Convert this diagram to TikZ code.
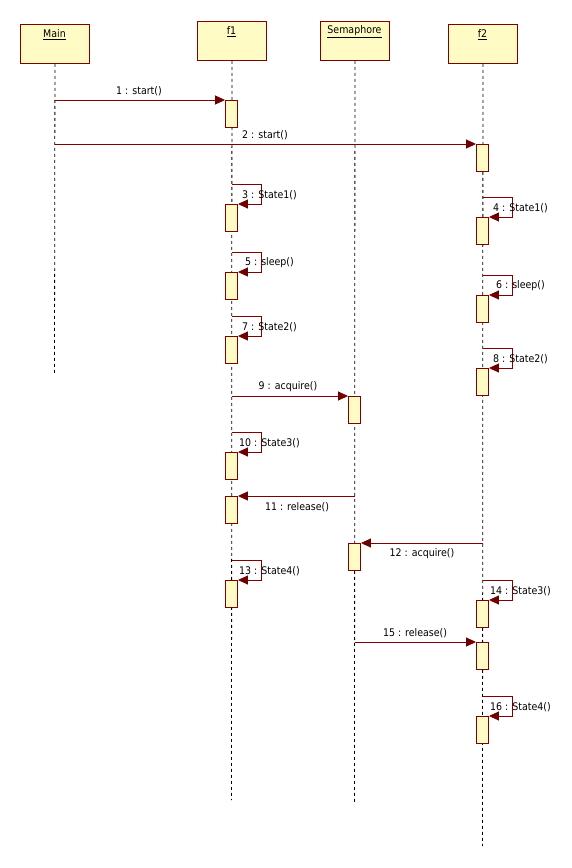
\documentclass[tikz,border=0pt]{standalone}
\usepackage{fontspec}
\setmainfont{DejaVu Sans Condensed}
\usetikzlibrary{arrows.meta}
\definecolor{umlfill}{RGB}{255,251,196}
\definecolor{umlline}{RGB}{128,0,0}
\definecolor{umlhead}{RGB}{112,0,0}
\begin{document}
\begin{tikzpicture}[x=1pt,y=-1pt,
  font=\fontsize{10.5}{13}\selectfont,
  objbox/.style={draw=umlline,fill=umlfill,line width=0.9pt,minimum width=69pt,
    minimum height=39pt,inner sep=0pt,anchor=north west},
  objtext/.style={inner sep=0pt,text=black},
  lifeline/.style={black,line width=0.8pt,dash pattern=on 3pt off 3pt},
  actbox/.style={draw=umlline,fill=umlfill,line width=0.9pt,minimum width=12pt,
    minimum height=27pt,inner sep=0pt,anchor=north},
  msg/.style={draw=umlline,line width=0.9pt,
    -{Triangle[length=10pt,width=9pt,fill=umlhead,color=umlhead]}},
  msgtext/.style={inner sep=0pt,text=black}]

\useasboundingbox (0,0) rectangle (572,868);

% objects
\node[objbox] (main) at (20,24) {};
\node[objbox] (f1) at (197,21) {};
\node[objbox] (sem) at (320,21) {};
\node[objbox] (f2) at (448,24) {};
\node[objtext] (mainlbl) at (54.5,35) {\underline{Main}};
\node[objtext] (f1lbl) at (231.5,32) {\underline{f1}};
\node[objtext] (semlbl) at (354.5,32) {\underline{Semaphore}};
\node[objtext] (f2lbl) at (482.5,35) {\underline{f2}};

% lifelines
\coordinate (mainend) at (54.5,373);
\coordinate (f1end) at (231.5,800);
\coordinate (semend) at (354.5,802);
\coordinate (f2end) at (482.5,846);
\draw[lifeline] (main.south) -- (mainend);
\draw[lifeline] (f1.south) -- (f1end);
\draw[lifeline] (sem.south) -- (semend);
\draw[lifeline] (f2.south) -- (f2end);

% activation bars
\node[actbox] (a1) at (231.5,100) {};
\node[actbox] (a2) at (482.5,144) {};
\node[actbox] (a3) at (231.5,204) {};
\node[actbox] (a4) at (482.5,217) {};
\node[actbox] (a5) at (231.5,272) {};
\node[actbox] (a6) at (482.5,295) {};
\node[actbox] (a7) at (231.5,336) {};
\node[actbox] (a8) at (482.5,368) {};
\node[actbox] (a9) at (354.5,396) {};
\node[actbox] (a10) at (231.5,452) {};
\node[actbox] (a11) at (231.5,496) {};
\node[actbox] (a12) at (354.5,543) {};
\node[actbox] (a13) at (231.5,580) {};
\node[actbox] (a14) at (482.5,600) {};
\node[actbox] (a15) at (482.5,642) {};
\node[actbox] (a16) at (482.5,716) {};

% messages between lifelines
\coordinate (m1) at (54.5,100);
\coordinate (m2) at (54.5,144);
\coordinate (m9) at (231.5,396);
\coordinate (m11) at (354.5,496);
\coordinate (m12) at (482.5,543);
\coordinate (m15) at (354.5,642);
\draw[msg] (m1) -- (a1.north west);
\draw[msg] (m2) -- (a2.north west);
\draw[msg] (m9) -- (a9.north west);
\draw[msg] (m11) -- (a11.north east);
\draw[msg] (m12) -- (a12.north east);
\draw[msg] (m15) -- (a15.north west);
\node[msgtext] (t1) at (139,91) {1 : start()};
\node[msgtext] (t2) at (265,135) {2 : start()};
\node[msgtext] (t9) at (288,387) {9 : acquire()};
\node[msgtext] (t11) at (297,507) {11 : release()};
\node[msgtext] (t12) at (422,554) {12 : acquire()};
\node[msgtext] (t15) at (415,633) {15 : release()};

% self messages
\foreach \n/\x/\y/\txt in {
    3/231.5/184/{3 : State1()},
    4/482.5/197/{4 : State1()},
    5/231.5/252/{5 : sleep()},
    6/482.5/275/{6 : sleep()},
    7/231.5/316/{7 : State2()},
    8/482.5/348/{8 : State2()},
    10/231.5/432/{10 : State3()},
    13/231.5/560/{13 : State4()},
    14/482.5/580/{14 : State3()},
    16/482.5/696/{16 : State4()}}{
  \coordinate (s\n) at (\x,\y);
  \draw[msg] (s\n) -- ++(30,0) |- (a\n.north east);
  \node[msgtext] (t\n) at (\x+38,\y+11) {\txt};
}
\end{tikzpicture}
\end{document}
